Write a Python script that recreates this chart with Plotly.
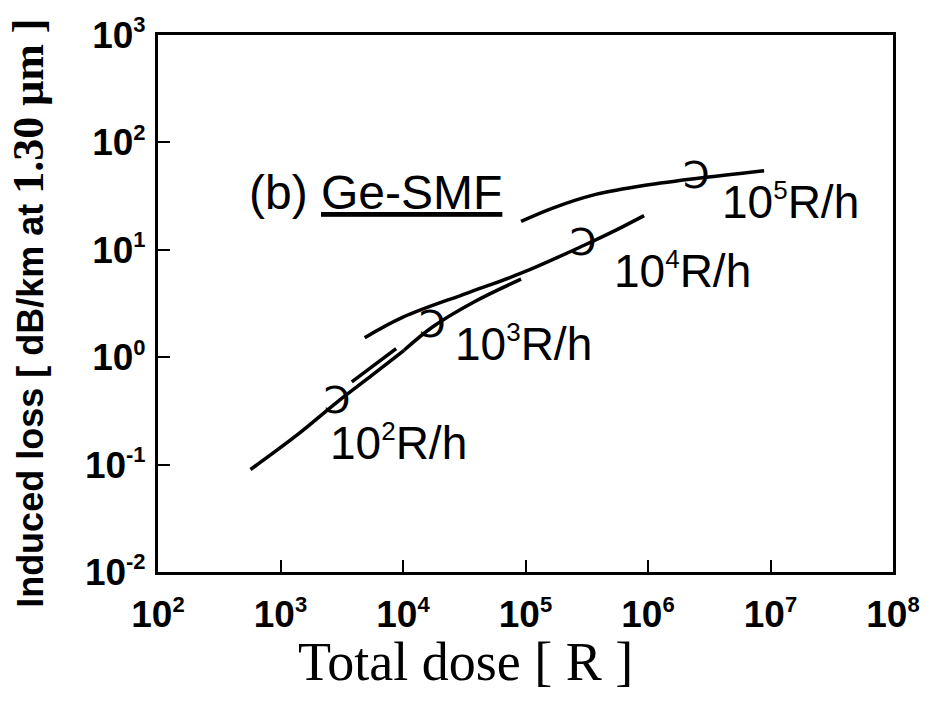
import plotly.graph_objects as go

# ---- data ----
# 10^2 R/h curve
dose_1e2 = [569, 1384, 2900, 5530, 10200]
loss_1e2 = [0.090, 0.191, 0.382, 0.672, 1.16]
# 10^3 R/h curve (short offset start, then continuation)
dose_1e3 = [3820, 8790, None, 10200, 17400, 38600, 92000]
loss_1e3 = [0.59, 1.20, None, 1.16, 1.91, 3.30, 5.33]
# 10^4 R/h curve
dose_1e4 = [4870, 10000, 33900, 92000, 295000, 564000, 929000]
loss_1e4 = [1.52, 2.36, 3.98, 6.05, 10.9, 15.5, 20.8]
# 10^5 R/h curve
dose_1e5 = [92000, 169000, 355000, 847000, 2.48e6, 8.87e6]
loss_1e5 = [18.4, 24.6, 32.3, 39.0, 46.1, 54.5]

# curve identification rings
ring_dose = [2900, 17400, 295000, 2.48e6]
ring_loss = [0.37, 1.91, 10.9, 46.1]

SUP = "<sup><span style='font-size:22px'>{}</span></sup>"
SUP_L = "<sup><span style='font-size:26px'>{}</span></sup>"
rate_labels = ["10" + SUP_L.format(e) + "R/h" for e in ["2", "3", "4", "5"]]
label_pos_x = [0.2310, 0.4010, 0.6180, 0.7650]
label_pos_y = [0.2405, 0.4263, 0.5611, 0.6904]

x_tickvals = [1e2, 1e3, 1e4, 1e5, 1e6, 1e7, 1e8]
x_ticktext = ["10" + SUP.format(e) for e in ["2", "3", "4", "5", "6", "7", "8"]]
y_tickvals = [1e-2, 1e-1, 1e0, 1e1, 1e2, 1e3]
y_ticktext = ["10" + SUP.format(e) for e in ["-2", "-1", "0", "1", "2", "3"]]

fig = go.Figure()
line_style = dict(color="black", width=3.5)
for xs, ys in [(dose_1e2, loss_1e2), (dose_1e3, loss_1e3), (dose_1e4, loss_1e4), (dose_1e5, loss_1e5)]:
    fig.add_trace(go.Scatter(x=xs, y=ys, mode="lines", line=line_style,
                             line_shape="spline", connectgaps=False, hoverinfo="skip"))

fig.add_trace(go.Scatter(x=ring_dose, y=ring_loss, mode="text", text=["Ↄ"] * len(ring_dose),
                         textposition="middle center",
                         textfont=dict(family="DejaVu Sans", size=38, color="black"),
                         hoverinfo="skip"))

tick_font = dict(family="Liberation Sans, Arial", size=37, color="black", weight="bold")

fig.update_xaxes(type="log", range=[2, 8], tickvals=x_tickvals, ticktext=x_ticktext,
                 ticks="inside", ticklen=12, tickwidth=2, tickcolor="black",
                 showline=True, linewidth=3, linecolor="black", mirror=True,
                 showgrid=False, zeroline=False, tickfont=tick_font, ticklabelstandoff=8)
fig.update_yaxes(type="log", range=[-2, 3], tickvals=y_tickvals, ticktext=y_ticktext,
                 ticks="inside", ticklen=12, tickwidth=2, tickcolor="black",
                 showline=True, linewidth=3, linecolor="black", mirror=True,
                 showgrid=False, zeroline=False, tickfont=tick_font, ticklabelstandoff=2)

annotations = []
for t, ax_, ay_ in zip(rate_labels, label_pos_x, label_pos_y):
    annotations.append(dict(text=t, x=ax_, y=ay_, xref="paper", yref="paper",
                            xanchor="left", yanchor="middle", showarrow=False,
                            font=dict(family="Liberation Sans, Arial", size=46, color="black")))

annotations.append(dict(text="(b) <u>Ge-SMF</u>", x=0.1205, y=0.706, xref="paper", yref="paper",
                        xanchor="left", yanchor="middle", showarrow=False,
                        font=dict(family="Liberation Sans, Arial", size=48, color="black")))

annotations.append(dict(text="Total dose [ R ]", x=0.4177, y=-0.168, xref="paper", yref="paper",
                        xanchor="center", yanchor="middle", showarrow=False,
                        font=dict(family="Liberation Serif, Times New Roman", size=54, color="black")))

annotations.append(dict(
    text=("<b>Induced loss [ dB/km at </b>"
          "<span style=\"font-family:'Liberation Serif','Times New Roman';font-size:44px\"><b>1.30 μm ]</b></span>"),
    x=-0.1753, y=0.481, xref="paper", yref="paper", textangle=-90,
    xanchor="center", yanchor="middle", showarrow=False,
    font=dict(family="Liberation Sans, Arial", size=36, color="black")))

fig.update_layout(width=932, height=702, margin=dict(l=158, r=27, t=23, b=130),
                  plot_bgcolor="white", paper_bgcolor="white", showlegend=False,
                  annotations=annotations)

fig.write_html("out.html")
